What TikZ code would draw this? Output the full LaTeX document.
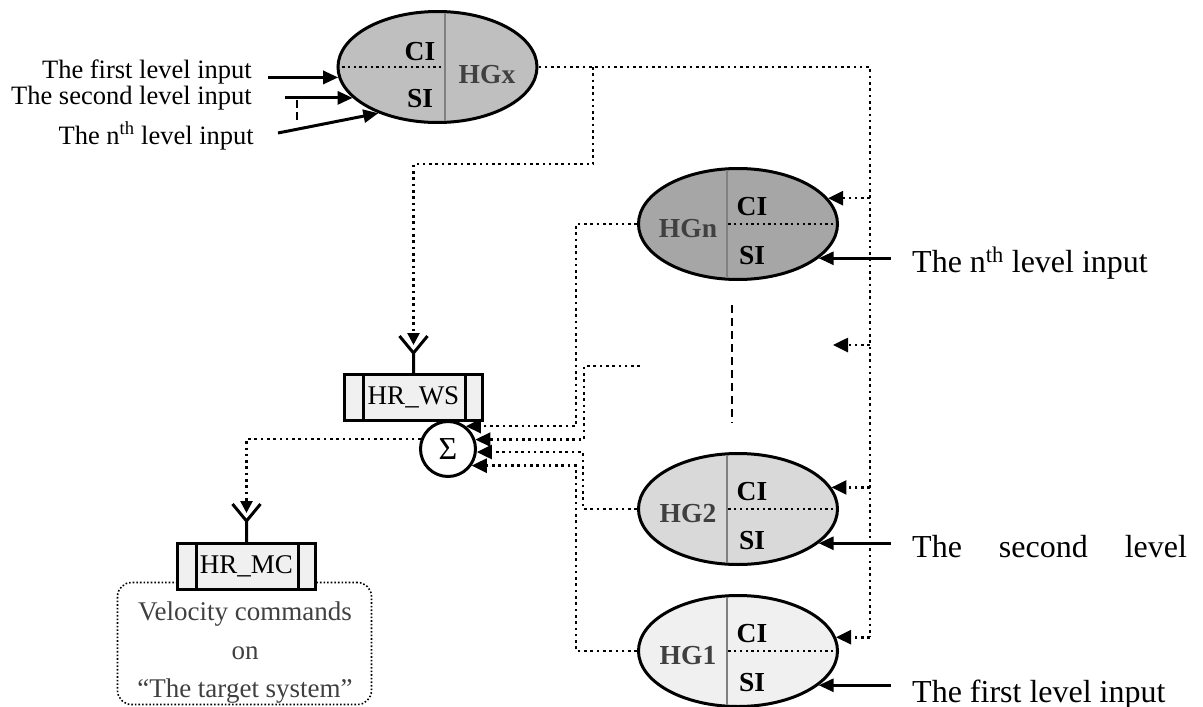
\documentclass[tikz,border=0pt]{standalone}
\usepackage{fontspec}
\setmainfont{Liberation Serif}
\usetikzlibrary{arrows.meta, positioning, shapes.geometric}

\definecolor{hgxfill}{gray}{0.75}
\definecolor{hgnfill}{gray}{0.65}
\definecolor{hgtwofill}{gray}{0.85}
\definecolor{hgonefill}{gray}{0.94}
\definecolor{boxfill}{gray}{0.94}
\definecolor{lblgray}{gray}{0.25}
\definecolor{splitgray}{gray}{0.5}

\tikzset{
  hg/.style={ellipse, draw, line width=3pt, minimum width=199pt, minimum height=111pt, inner sep=0pt},
  hglbl/.style={font=\fontsize{27.5}{27.5}\selectfont\bfseries, text=lblgray, inner sep=0pt},
  ioname/.style={font=\fontsize{27.5}{27.5}\selectfont\bfseries, inner sep=0pt},
  split/.style={draw=splitgray, line width=2.5pt, shorten <=3pt, shorten >=3pt},
  cut/.style={line width=2.3pt, dash pattern=on 2.3pt off 3.4pt},
  dotline/.style={line width=2.6pt, dash pattern=on 2.6pt off 3.7pt},
  dotarr/.style={dotline, -{Triangle[length=15pt,width=14pt]}},
  inarr/.style={line width=3pt, -{Triangle[length=15pt,width=13pt]}},
  forkarr/.style={dotline, -{Triangle[length=12pt,width=12pt]}},
  fork/.style={line width=3pt},
  procbox/.style={rectangle, draw, fill=boxfill, line width=3pt,
    minimum width=138pt, minimum height=46pt, inner sep=0pt,
    font=\fontsize{27}{27}\selectfont,
    path picture={
      \draw[line width=3pt] ([xshift=19pt]path picture bounding box.north west) -- ([xshift=19pt]path picture bounding box.south west);
      \draw[line width=3pt] ([xshift=-17pt]path picture bounding box.north east) -- ([xshift=-17pt]path picture bounding box.south east);
    }},
  sumnode/.style={circle, draw, fill=white, line width=3pt, minimum size=55pt, inner sep=0pt, font=\fontsize{32}{32}\selectfont},
  notebox/.style={rectangle, rounded corners=14pt, draw, line width=1.6pt, dash pattern=on 1.6pt off 2pt,
    minimum width=254pt, minimum height=122pt},
  notetxt/.style={align=center, text=lblgray, font=\fontsize{27}{38.5}\selectfont, inner sep=0pt},
  intxt/.style={font=\fontsize{26.5}{26.5}\selectfont, inner sep=0pt},
  outtxt/.style={font=\fontsize{32}{32}\selectfont, inner sep=0pt}
}

\begin{document}
\begin{tikzpicture}[x=1pt, y=-1pt]
  \useasboundingbox (0,0) rectangle (1203,707);

  % the handler groups
  \node[hg, fill=hgxfill] (hgx) at (437.5,67) {};
  \node[hg, fill=hgnfill] (hgn) at (738,224) {};
  \node[hg, fill=hgtwofill] (hg2) at (738,509) {};
  \node[hg, fill=hgonefill] (hg1) at (738,651) {};

  \draw[split] ([xshift=7.5pt]hgx.north) -- ([xshift=7.5pt]hgx.south);
  \draw[cut] (hgx.west) -- ++(107,0);
  \foreach \g in {hgn, hg2, hg1} {
    \draw[split] ([xshift=-11pt]\g.north) -- ([xshift=-11pt]\g.south);
    \draw[cut] (\g.east) -- ++(-112,0);
  }

  % labels inside the groups
  \node[ioname] (hgxci) at (420,52) {CI};
  \node[ioname] (hgxsi) at (420,99) {SI};
  \node[hglbl] (hgxname) at (487,75) {HGx};
  \node[ioname] (hgnci) at (752,207) {CI};
  \node[ioname] (hgnsi) at (752,256) {SI};
  \node[hglbl] (hgnname) at (688,229) {HGn};
  \node[ioname] (hg2ci) at (752,492) {CI};
  \node[ioname] (hg2si) at (752,541) {SI};
  \node[hglbl] (hg2name) at (688,514) {HG2};
  \node[ioname] (hg1ci) at (752,634) {CI};
  \node[ioname] (hg1si) at (752,683) {SI};
  \node[hglbl] (hg1name) at (688,656) {HG1};

  % inputs of HGx
  \node[intxt, anchor=base east] (inone) at (252,78) {The first level input};
  \node[intxt, anchor=base east] (intwo) at (252,104) {The second level input};
  \node[intxt, anchor=base east] (inn) at (254,144) {The n\textsuperscript{th} level input};
  \draw[inarr] (hgx.186) ++(-70,0) -- (hgx.186);
  \draw[inarr] (hgx.200) ++(-68,0) -- (hgx.200);
  \draw[inarr] (278,133) -- (hgx.218);
  \draw[line width=2pt, dash pattern=on 8pt off 4pt] (297,100) -- (297,122);

  % summation and the two boxes
  \node[sumnode] (sigma) at (448,449) {Σ};
  \node[procbox] (hrws) at (413.5,397.5) {HR\_WS};
  \node[notebox] (cmd) at (244.5,643.5) {};
  \node[notetxt] (cmdtxt) at (245,653) {Velocity commands\\on\\“The target system”};
  \node[procbox] (hrmc) at (246.5,566.5) {HR\_MC};

  \draw[fork] (hrws.north) -- ++(0,-20) coordinate (wsfork) -- ++(-14,-17) (wsfork) -- ++(14,-17);
  \coordinate (wsin) at ([yshift=8pt]wsfork);
  \draw[fork] (hrmc.north) -- ++(0,-21) coordinate (mcfork) -- ++(-14,-17) (mcfork) -- ++(14,-17);
  \coordinate (mcin) at ([yshift=8pt]mcfork);

  % feedback from HGx
  \coordinate (bus) at (870,0);
  \coordinate (tap) at (593,0);
  \draw[dotline] (hgx.east) -- (bus |- hgx.east) -- (bus |- hg1.8);
  \draw[forkarr] (hgx.east -| tap) -- ++(0,97) -| (wsin);

  \coordinate (gaptip) at (833,345);
  \draw[dotarr] (bus |- hgn.16) -- (hgn.16);
  \draw[dotarr] (bus |- gaptip) -- (gaptip);
  \draw[dotarr] (bus |- hg2.13) -- (hg2.13);
  \draw[dotarr] (bus |- hg1.8) -- (hg1.8);

  % outputs into the sum
  \coordinate (gapend) at (640,366);
  \draw[dotarr] (hgn.west) -- ++(-61,0) |- (sigma.52);
  \draw[dotarr] (gapend) -- ++(-56,0) |- (sigma.19);
  \draw[dotarr] (hg2.west) -- ++(-54,0) |- (sigma.-6);
  \draw[dotarr] (hg1.west) -- ++(-61,0) |- (sigma.-35);
  \draw[forkarr] (sigma.160) -| (mcin);

  \draw[line width=2pt, dash pattern=on 8pt off 5pt] (732,305) -- (732,423);

  % level inputs on the right
  \draw[inarr] (hgn.-23) ++(72,0) -- (hgn.-23);
  \draw[inarr] (hg2.-23) ++(72,0) -- (hg2.-23);
  \draw[inarr] (hg1.-23) ++(72,0) -- (hg1.-23);
  \node[outtxt, anchor=base west] (outn) at (912,272) {The n\textsuperscript{th} level input};
  \node[outtxt, anchor=base west] (outtwo) at (912,557) {The\hspace{37pt}second\hspace{37pt}level};
  \node[outtxt, anchor=base west] (outone) at (912,702) {The first level input};
\end{tikzpicture}
\end{document}
